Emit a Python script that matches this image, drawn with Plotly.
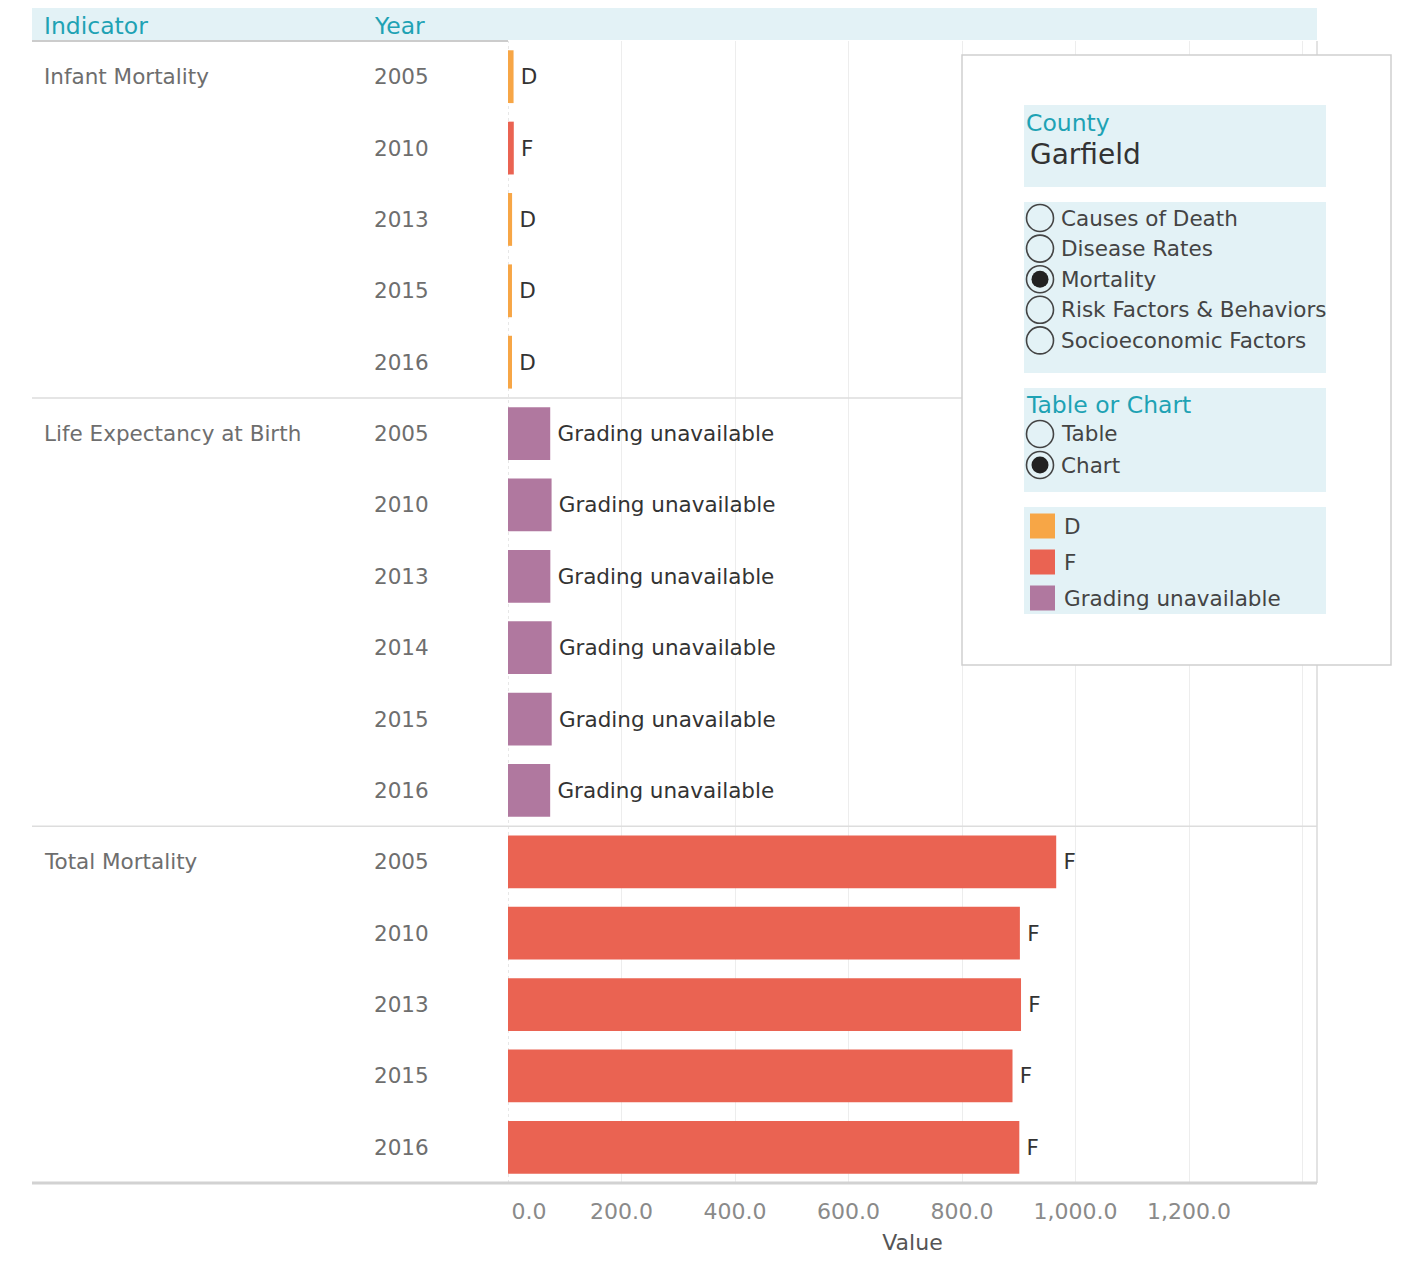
import plotly.graph_objects as go

# ---------------- data ----------------
indicators = ["Infant Mortality", "Life Expectancy at Birth", "Total Mortality"]
indicator_rows = [5, 6, 5]
years = [2005, 2010, 2013, 2015, 2016,
         2005, 2010, 2013, 2014, 2015, 2016,
         2005, 2010, 2013, 2015, 2016]
values = [9.8, 10.2, 7.2, 7.0, 7.1,
          74.4, 76.8, 74.6, 76.9, 77.0, 74.3,
          966.0, 902.0, 904.0, 889.0, 901.0]
grades = ["D", "F", "D", "D", "D",
          "Grading unavailable", "Grading unavailable", "Grading unavailable",
          "Grading unavailable", "Grading unavailable", "Grading unavailable",
          "F", "F", "F", "F", "F"]
grade_names = ["D", "F", "Grading unavailable"]
grade_colors = ["#F7A646", "#EA6352", "#B0789F"]
x_tick_vals = [0, 200, 400, 600, 800, 1000, 1200, 1400]
x_tick_text = [f"{v:,.1f}" for v in x_tick_vals[:-1]] + [""]
topic_options = ["Causes of Death", "Disease Rates", "Mortality",
                 "Risk Factors & Behaviors", "Socioeconomic Factors"]
topic_selected = "Mortality"
view_options = ["Table", "Chart"]
view_selected = "Chart"
county = "Garfield"

# first tick label is nudged inside the axis, as in the original
x_tick_text[0] = "\u00a0" * 6 + x_tick_text[0]

# ---------------- geometry helpers ----------------
OFF = 8  # page body margin
W, H = 1401 - OFF, 1263 - 2 * OFF
# plot area, in page pixel coordinates of the reference
RL, RR, RT, RB = 508, 1317, 41, 1183
PL, PR, PT, PB = RL - OFF, RR - OFF, RT - OFF, RB - OFF


def px(x):
    return (x - RL) / (RR - RL)


def py(y):
    return (RB - y) / (RB - RT)


FONT = "DejaVu Sans, Verdana, sans-serif"
TEAL = "#1EA2B4"
LIGHT = "#E3F2F6"
TXT = 21.5
HEAD = 23.5

n = len(values)
rows = list(range(n))

fig = go.Figure()
for g, c in zip(grade_names, grade_colors):
    idx = [i for i in rows if grades[i] == g]
    fig.add_trace(go.Bar(
        orientation="h",
        x=[values[i] for i in idx],
        y=[rows[i] for i in idx],
        marker=dict(color=c, line=dict(width=0)),
        width=0.74,
        text=["\u2009" + g for _ in idx],
        textposition="outside",
        textfont=dict(family=FONT, size=TXT, color="#333333"),
        constraintext="none",
        cliponaxis=False,
        name=g,
        showlegend=False,
        hovertemplate="%{x}<extra>" + g + "</extra>",
    ))

annotations = []
shapes = []

# header band
shapes.append(dict(type="rect", xref="paper", yref="paper", layer="below",
                   x0=px(32), x1=px(1317), y0=py(40), y1=py(4),
                   fillcolor=LIGHT, line=dict(width=0)))
annotations.append(dict(text="Indicator", xref="paper", yref="paper", x=px(42), y=py(26),
                        xanchor="left", yanchor="middle", showarrow=False,
                        font=dict(family=FONT, size=HEAD, color=TEAL)))
annotations.append(dict(text="Year", xref="paper", yref="paper", x=px(372), y=py(26),
                        xanchor="left", yanchor="middle", showarrow=False,
                        font=dict(family=FONT, size=HEAD, color=TEAL)))
# line under left header
shapes.append(dict(type="line", xref="paper", yref="paper", x0=px(32), x1=px(508),
                   y0=1, y1=1, line=dict(color="#CCCCCC", width=2)))

# row labels
start = 0
for name, cnt in zip(indicators, indicator_rows):
    annotations.append(dict(text=name, xref="paper", yref="y", x=px(42), y=start,
                            xanchor="left", yanchor="middle", showarrow=False,
                            font=dict(family=FONT, size=TXT, color="#6E6E6E")))
    start += cnt
    if start < n:
        shapes.append(dict(type="line", xref="paper", yref="y", x0=px(32), x1=1,
                           y0=start - 0.5, y1=start - 0.5,
                           line=dict(color="#DDDDDD", width=1.5)))
for i, yr in enumerate(years):
    annotations.append(dict(text=str(yr), xref="paper", yref="y", x=px(372), y=i,
                            xanchor="left", yanchor="middle", showarrow=False,
                            font=dict(family=FONT, size=TXT, color="#6E6E6E")))

# zero line, right border, bottom line
shapes.append(dict(type="line", xref="x", yref="paper", x0=0, x1=0, y0=0, y1=1,
                   line=dict(color="#CFCFCF", width=1, dash="dot"), layer="below"))
shapes.append(dict(type="line", xref="paper", yref="paper", x0=1, x1=1, y0=0, y1=1,
                   line=dict(color="#DADADA", width=1.5)))
shapes.append(dict(type="line", xref="paper", yref="paper", x0=px(32), x1=1, y0=0, y1=0,
                   line=dict(color="#D2D2D2", width=3)))

# ---------------- side panel ----------------
shapes.append(dict(type="rect", xref="paper", yref="paper", layer="above",
                   x0=px(962), x1=px(1391), y0=py(665), y1=py(55),
                   fillcolor="white", line=dict(color="#CFCFCF", width=1.5)))
for (t, b) in [(105, 187), (202, 373), (388, 492), (507, 614)]:
    shapes.append(dict(type="rect", xref="paper", yref="paper", layer="above",
                       x0=px(1024), x1=px(1326), y0=py(b), y1=py(t),
                       fillcolor=LIGHT, line=dict(width=0)))

annotations.append(dict(text="County", xref="paper", yref="paper", x=px(1024), y=py(123),
                        xanchor="left", yanchor="middle", showarrow=False,
                        font=dict(family=FONT, size=HEAD, color=TEAL)))
annotations.append(dict(text=county, xref="paper", yref="paper", x=px(1028), y=py(154),
                        xanchor="left", yanchor="middle", showarrow=False,
                        font=dict(family=FONT, size=28, color="#333333")))


def radio(cy, label, selected):
    r = 13.5
    cx = 1040
    shapes.append(dict(type="circle", xref="paper", yref="paper", layer="above",
                       x0=px(cx - r), x1=px(cx + r), y0=py(cy + r), y1=py(cy - r),
                       fillcolor="rgba(255,255,255,0)", line=dict(color="#444444", width=1.6)))
    if selected:
        ri = 8.5
        shapes.append(dict(type="circle", xref="paper", yref="paper", layer="above",
                           x0=px(cx - ri), x1=px(cx + ri), y0=py(cy + ri), y1=py(cy - ri),
                           fillcolor="#222222", line=dict(width=0)))
    annotations.append(dict(text=label, xref="paper", yref="paper", x=px(1059), y=py(cy),
                            xanchor="left", yanchor="middle", showarrow=False,
                            font=dict(family=FONT, size=TXT, color="#444444")))


for k, opt in enumerate(topic_options):
    radio(218 + k * 30.6, opt, opt == topic_selected)

annotations.append(dict(text="Table or Chart", xref="paper", yref="paper", x=px(1024), y=py(405),
                        xanchor="left", yanchor="middle", showarrow=False,
                        font=dict(family=FONT, size=HEAD, color=TEAL)))
for k, opt in enumerate(view_options):
    radio(434 + k * 31, opt, opt == view_selected)

for k, (g, c) in enumerate(zip(grade_names, grade_colors)):
    cy = 526 + k * 36
    shapes.append(dict(type="rect", xref="paper", yref="paper", layer="above",
                       x0=px(1030), x1=px(1055), y0=py(cy + 12.5), y1=py(cy - 12.5),
                       fillcolor=c, line=dict(width=0)))
    annotations.append(dict(text=g, xref="paper", yref="paper", x=px(1062), y=py(cy),
                            xanchor="left", yanchor="middle", showarrow=False,
                            font=dict(family=FONT, size=TXT, color="#444444")))

fig.update_layout(
    width=W, height=H,
    margin=dict(l=PL, r=W - PR, t=PT, b=H - PB, pad=0, autoexpand=False),
    paper_bgcolor="white", plot_bgcolor="white",
    barmode="overlay",
    font=dict(family=FONT),
    xaxis=dict(range=[0, (RR - RL) / 0.5675], tickvals=x_tick_vals, ticktext=x_tick_text,
               automargin=False,
               showgrid=True, gridcolor="#EDEDED", gridwidth=1, zeroline=False,
               showline=False, ticks="", ticklabelstandoff=13,
               tickfont=dict(family=FONT, size=22, color="#8A8A8A"),
               title=dict(text="Value", standoff=16,
                          font=dict(family=FONT, size=22, color="#555555"))),
    yaxis=dict(range=[n - 0.5, -0.5], showticklabels=False, showgrid=False, automargin=False,
               zeroline=False, showline=False, ticks=""),
    shapes=shapes,
    annotations=annotations,
)

fig.write_html("out.html")
